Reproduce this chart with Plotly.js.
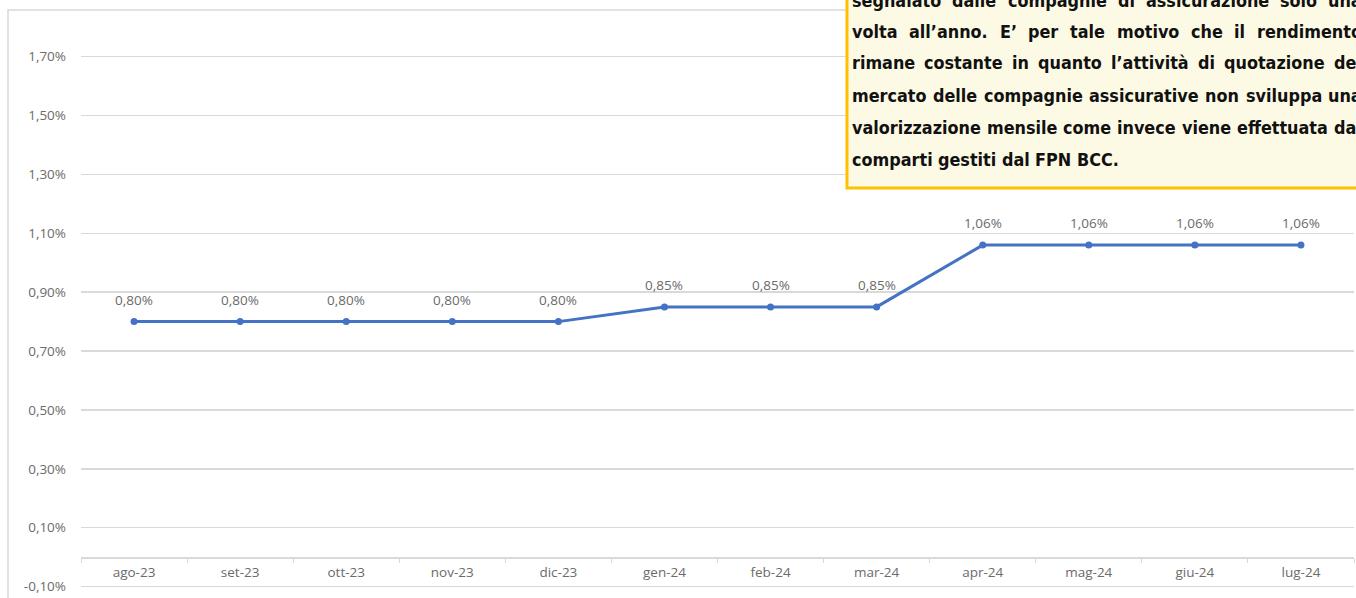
<!DOCTYPE html>
<html>
<head>
<meta charset="utf-8">
<script src="https://cdn.plot.ly/plotly-3.0.1.min.js"></script>
<style>html,body{margin:0;padding:0;background:#fff;}#chart{width:1356px;height:598px;}</style>
</head>
<body>
<div id="chart"></div>
<script>
// ---- data ----
const categories = ['ago-23','set-23','ott-23','nov-23','dic-23','gen-24','feb-24','mar-24','apr-24','mag-24','giu-24','lug-24'];
const values = [0.80,0.80,0.80,0.80,0.80,0.85,0.85,0.85,1.06,1.06,1.06,1.06];
const yTickVals = [-0.10,0.10,0.30,0.50,0.70,0.90,1.10,1.30,1.50,1.70];
const noteLines = [
  "segnalato dalle compagnie di assicurazione solo una",
  "volta all\u2019anno. E\u2019 per tale motivo che il rendimento",
  "rimane costante in quanto l\u2019attività di quotazione del",
  "mercato delle compagnie assicurative non sviluppa una",
  "valorizzazione mensile come invece viene effettuata dai",
  "comparti gestiti dal FPN BCC."
];

// ---- layout geometry ----
const W = 1356, H = 598;
const M = {l: 81, r: 2, t: 42, b: 10};
const PW = W - M.l - M.r, PH = H - M.t - M.b;
const yRange = [-0.105, 1.75];
const px2paperX = px => (px - M.l) / PW;
const px2paperY = py => (H - M.b - py) / PH;
const zeroPos = (0 - yRange[0]) / (yRange[1] - yRange[0]);

const fmt = v => v.toFixed(2).replace('.', ',') + '%';
const grey = '#6b6b6b';
const tickFont = {family: 'Open Sans, Liberation Sans, sans-serif', size: 13.5, color: grey};

// ---- note box text (justified, word by word) ----
const noteFamily = "'Liberation Sans Narrow', 'DejaVu Sans Condensed', 'Arial Narrow', sans-serif";
const cvs = document.createElement('canvas');
const ctx = cvs.getContext('2d');
function measure(txt, fs) { ctx.font = 'bold ' + fs + 'px ' + noteFamily; return ctx.measureText(txt).width; }
const lastW = measure(noteLines[noteLines.length - 1], 23);
const fs = Math.max(17, Math.min(26, 23 * 267 / lastW));
const textL = 852, textR = 1362;
const lineY = [0, 31.5, 63, 95, 127, 159];
const annotations = [];
noteLines.forEach((line, li) => {
  const words = line.split(' ');
  const widths = words.map(w => measure(w, fs));
  const sum = widths.reduce((a, b) => a + b, 0);
  let gap = measure(' ', fs);
  if (li < noteLines.length - 1 && words.length > 1) gap = (textR - textL - sum) / (words.length - 1);
  let x = textL;
  words.forEach((w, wi) => {
    annotations.push({
      xref: 'paper', yref: 'paper', x: px2paperX(x), y: px2paperY(lineY[li]),
      xanchor: 'left', yanchor: 'middle', showarrow: false, text: w,
      borderpad: 0, borderwidth: 0,
      font: {family: noteFamily, size: fs, color: '#111111', weight: 'bold'}
    });
    x += widths[wi] + gap;
  });
});

// ---- data labels ----
categories.forEach((c, i) => {
  annotations.push({
    x: c, y: values[i], xref: 'x', yref: 'y', text: fmt(values[i]), showarrow: false,
    yshift: 22, yanchor: 'middle', xanchor: 'center',
    font: {family: 'Open Sans, Liberation Sans, sans-serif', size: 13.5, color: grey}
  });
});

const shapes = [
  // outer chart frame
  {type: 'rect', xref: 'paper', yref: 'paper', x0: px2paperX(8), x1: px2paperX(1400), y0: px2paperY(640), y1: px2paperY(10),
   line: {color: '#d9d9d9', width: 1.5}, fillcolor: 'rgba(0,0,0,0)', layer: 'below'},
  // note box
  {type: 'rect', xref: 'paper', yref: 'paper', x0: px2paperX(847), x1: px2paperX(1400), y0: px2paperY(188), y1: px2paperY(-30),
   line: {color: '#FFC000', width: 3}, fillcolor: '#FCFAE4', layer: 'above'}
];

const trace = {
  type: 'scatter', mode: 'lines+markers', x: categories, y: values,
  line: {color: '#4472C4', width: 3},
  marker: {color: '#4472C4', size: 7},
  hoverinfo: 'skip', showlegend: false
};

const layout = {
  width: W, height: H, margin: M,
  paper_bgcolor: '#ffffff', plot_bgcolor: '#ffffff',
  separators: ',.',
  showlegend: false,
  xaxis: {
    type: 'category', anchor: 'free', position: zeroPos,
    range: [-0.5, categories.length - 0.5], autorange: false,
    showline: true, linecolor: '#d9d9d9', linewidth: 1.5,
    ticks: 'outside', tickson: 'boundaries', ticklen: 4, tickcolor: '#d9d9d9',
    showgrid: false, zeroline: false, tickfont: tickFont, ticklabelstandoff: 2,
    fixedrange: true
  },
  yaxis: {
    range: yRange, tickvals: yTickVals, ticktext: yTickVals.map(fmt),
    showgrid: true, gridcolor: '#d9d9d9', gridwidth: 1.5, zeroline: false,
    showline: false, ticks: '', tickfont: tickFont, ticklabelstandoff: 14,
    fixedrange: true
  },
  shapes: shapes,
  annotations: annotations
};

Plotly.newPlot('chart', [trace], layout, {displayModeBar: false, staticPlot: true});
</script>
</body>
</html>
